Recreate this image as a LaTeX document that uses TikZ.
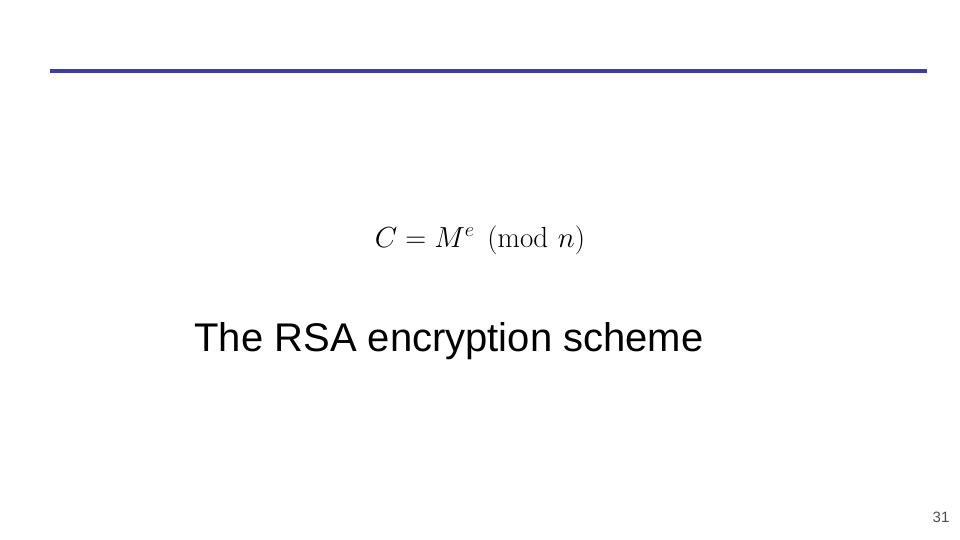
\documentclass[tikz,border=0pt]{standalone}
\usepackage{fix-cm}
\usepackage{amsmath}
\usepackage{fontspec}
\newfontfamily\arial{Liberation Sans}
\begin{document}
\begin{tikzpicture}[x=1pt,y=-1pt]
\useasboundingbox (0,0) rectangle (960,540);
\definecolor{rule}{RGB}{60,60,170}
\coordinate (l) at (50,71);
\coordinate (r) at (927,71);
\draw[rule,line width=4pt] (l) -- (r);
\node (eq) at (480,240) {\fontsize{29}{35}\selectfont$C = M^e \pmod{n}$};
\node (cap) at (449,341) {\arial\fontsize{40}{46}\selectfont The RSA encryption scheme};
\node[text=black!70] (pg) at (941,517) {\arial\fontsize{15}{18}\selectfont 31};
\end{tikzpicture}
\end{document}
